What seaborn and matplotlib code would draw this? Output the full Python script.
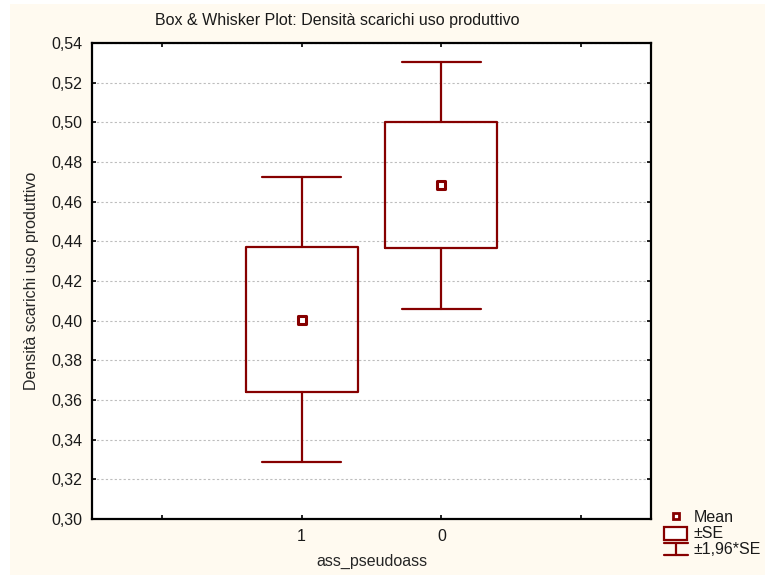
import numpy as np
import matplotlib
matplotlib.use("Agg")
import matplotlib.pyplot as plt
from matplotlib.lines import Line2D
from matplotlib.patches import Rectangle
from matplotlib.ticker import FuncFormatter
import seaborn as sns

# Group summary: mean and standard error of each group
groups = ["1", "0"]
means = [0.4005, 0.4683]
std_errors = [0.0366, 0.0318]
z_whisker = 1.96

title = "Box & Whisker Plot: Densità scarichi uso produttivo"
x_label = "ass_pseudoass"
y_label = "Densità scarichi uso produttivo"
y_ticks = [0.30, 0.32, 0.34, 0.36, 0.38, 0.40, 0.42, 0.44, 0.46, 0.48, 0.50, 0.52, 0.54]

sns.set_theme(style="ticks")
plt.rcParams["font.family"] = ["Liberation Sans", "DejaVu Sans"]
plt.rcParams["text.color"] = "#1a1a1a"

RED = "#860000"
BG = "#fffaf0"
FS = 11.5

fig = plt.figure(figsize=(7.65, 5.75), dpi=100)
fig.patch.set_facecolor("white")
fig.patches.append(Rectangle((10 / 765, 0), 1, 1 - 4 / 575, transform=fig.transFigure,
                             facecolor=BG, edgecolor="none", zorder=-10))

ax = fig.add_axes([92 / 765, 1 - 519 / 575, (651 - 92) / 765, (519 - 43) / 575])
ax.set_facecolor("white")

# Mean markers
sns.scatterplot(x=groups, y=means, marker="s", s=32, color="white",
                edgecolor=RED, linewidth=2.2, zorder=5, ax=ax, legend=False)

# Boxes (±SE) and whiskers (±1.96*SE)
stats = []
for g, m, se in zip(groups, means, std_errors):
    stats.append(dict(label=g, med=m, q1=m - se, q3=m + se,
                      whislo=m - z_whisker * se, whishi=m + z_whisker * se))
line_kw = dict(color=RED, linewidth=1.6)
ax.bxp(stats, positions=[0, 1], widths=0.8, capwidths=0.56, showfliers=False,
       manage_ticks=False, boxprops=line_kw, whiskerprops=line_kw,
       capprops=line_kw, medianprops=dict(linewidth=0))

ax.set_xlim(-1.5, 2.5)
ax.set_ylim(0.30, 0.54)
ax.set_xticks([-1, 0, 1, 2])
ax.set_xticklabels(["", groups[0], groups[1], ""])
ax.set_yticks(y_ticks)
ax.yaxis.set_major_formatter(FuncFormatter(lambda v, p: f"{v:.2f}".replace(".", ",")))

ax.tick_params(direction="in", length=3, width=1.2, color="black",
               top=True, right=True, labelsize=FS, labelcolor="#1a1a1a", pad=7)
ax.yaxis.grid(True, linestyle=(0, (2, 2)), color="#bdbdbd", linewidth=0.8)
ax.xaxis.grid(False)
for sp in ax.spines.values():
    sp.set_visible(True)
    sp.set_color("black")
    sp.set_linewidth(1.6)

ax.set_xlabel(x_label, fontsize=FS, labelpad=7)
ax.set_ylabel(y_label, fontsize=FS, labelpad=9)
fig.text(337 / 765, 1 - 20 / 575, title, ha="center", va="center", fontsize=FS)

# Legend glyphs
def fx(px):
    return px / 765

def fy(py):
    return 1 - py / 575

fig.add_artist(Line2D([fx(676)], [fy(516)], marker="s", markersize=5, markerfacecolor="white",
                      markeredgecolor=RED, markeredgewidth=2, linestyle="none",
                      transform=fig.transFigure))
fig.add_artist(Rectangle((fx(664), fy(540)), fx(687) - fx(664), fy(527) - fy(540),
                         transform=fig.transFigure, facecolor="white", edgecolor=RED,
                         linewidth=1.6))
for yy in (543, 555):
    fig.add_artist(Line2D([fx(664), fx(688)], [fy(yy), fy(yy)], color=RED, linewidth=1.6,
                          transform=fig.transFigure))
fig.add_artist(Line2D([fx(676), fx(676)], [fy(543), fy(555)], color=RED, linewidth=1.6,
                      transform=fig.transFigure))
for txt, yy in (("Mean", 518), ("±SE", 534), ("±1,96*SE", 550)):
    fig.text(fx(694), fy(yy), txt, ha="left", va="center", fontsize=FS)

fig.savefig("out.png", dpi=100, facecolor=fig.get_facecolor())
